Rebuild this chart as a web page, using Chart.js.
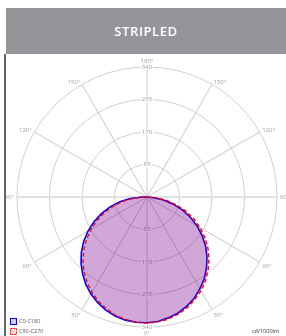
<!DOCTYPE html>
<html><head><meta charset="utf-8">
<script src="https://cdn.jsdelivr.net/npm/chart.js@4.4.1/dist/chart.umd.min.js"></script>
<style>
html,body{margin:0;padding:0;background:#fff;width:286px;height:336px;overflow:hidden;}
#hdr{position:absolute;left:6px;top:8px;width:280px;height:46px;background:#939598;color:#fff;font:600 13px "Open Sans",sans-serif;letter-spacing:0.6px;display:flex;align-items:center;justify-content:center;z-index:2;}
#bar{position:absolute;left:4px;top:54px;width:2px;height:282px;background:#666;z-index:2;}
canvas{position:absolute;left:0;top:0;}
</style></head><body>
<div id="hdr">STRIPLED</div><div id="bar"></div>
<canvas id="c" width="286" height="336"></canvas>
<script>
// gamma angles (deg from nadir), 5 degree steps
const gammaAngles = [0,5,10,15,20,25,30,35,40,45,50,55,60,65,70,75,80,85,90,95,100,105,110,115,120,125,130,135,140,145,150,155,160,165,170,175,180];
const seriesNames = ['C0-C180','C90-C270'];
// intensities cd/1000lm per gamma angle
const c0   = [329,327,321,314,304,292,277,261,242,222,200,176,151,125,98,70,42,13,0,0,0,0,0,0,0,0,0,0,0,0,0,0,0,0,0,0,0];
const c180 = [329,329,327,322,315,305,293,279,262,244,224,202,178,153,127,100,72,44,12,0,0,0,0,0,0,0,0,0,0,0,0,0,0,0,0,0,0];
const c90  = [330,328,324,317,308,296,283,267,249,229,208,185,160,135,108,80,52,24,0,0,0,0,0,0,0,0,0,0,0,0,0,0,0,0,0,0,0];
const c270 = [330,329,325,320,311,301,288,273,256,237,216,193,169,144,118,90,62,34,5,0,0,0,0,0,0,0,0,0,0,0,0,0,0,0,0,0,0];
const radialTicks = [85,170,255,340];
// angle labels clockwise from top, every 30 degrees
const angleTickLabels = ['180°','150°','120°','90°','60°','30°','0°','30°','60°','90°','120°','150°'];
const unitLabel = 'cd/1000lm';

// build radar positions (clockwise from top, 5 deg steps)
const N = 72;
const labels = [];
for (let i = 0; i < N; i++) { const p = i * 5; labels.push(p % 30 === 0 ? angleTickLabels[p / 30] : ''); }
function ring(right, left) {
  const out = [];
  for (let i = 0; i < N; i++) {
    const p = i * 5;
    out.push(p <= 180 ? right[gammaAngles.indexOf(180 - p)] : left[gammaAngles.indexOf(p - 180)]);
  }
  return out;
}

const polarText = {
  id: 'polarText',
  beforeDatasetsDraw(chart) {
    const s = chart.scales.r, ctx = chart.ctx;
    ctx.save();
    ctx.font = '6px "Open Sans", sans-serif';
    ctx.textAlign = 'center'; ctx.textBaseline = 'middle';
    radialTicks.forEach(v => {
      const d = s.getDistanceFromCenterForValue(v);
      [-1, 1].forEach(sg => {
        const x = s.xCenter, y = s.yCenter + sg * d, t = String(v);
        const w = ctx.measureText(t).width;
        ctx.fillStyle = '#fff'; ctx.fillRect(x - w / 2 - 1, y - 3, w + 2, 6);
        ctx.fillStyle = '#9a9a9a'; ctx.fillText(t, x, y);
      });
    });
    labels.forEach((lab, i) => {
      if (!lab) return;
      const p = i * 5;
      const pos = s.getPointPosition(i, s.drawingArea + 3);
      ctx.textAlign = (p % 180 === 0) ? 'center' : (p < 180 ? 'left' : 'right');
      ctx.textBaseline = p === 0 ? 'bottom' : (p === 180 ? 'top' : ((p > 90 && p < 270) ? 'top' : 'middle'));
      ctx.fillStyle = '#a0a0a0';
      ctx.fillText(lab, pos.x, pos.y);
    });
    ctx.restore();
  },
  afterDraw(chart) {
    const ctx = chart.ctx;
    ctx.save();
    ctx.font = '5.5px "Open Sans", sans-serif';
    ctx.textBaseline = 'middle';
    chart.data.datasets.forEach((ds, k) => {
      const bx = 10, by = 318 + k * 10;
      ctx.fillStyle = ds.legendFill; ctx.fillRect(bx, by, 6, 6);
      ctx.strokeStyle = ds.borderColor; ctx.lineWidth = 1;
      ctx.setLineDash(ds.borderDash ? [2, 1] : []);
      ctx.strokeRect(bx + 0.5, by + 0.5, 6, 6);
      ctx.setLineDash([]);
      ctx.fillStyle = '#555'; ctx.textAlign = 'left';
      ctx.fillText(ds.label, 19, by + 3.5);
    });
    ctx.textAlign = 'right'; ctx.fillStyle = '#333';
    ctx.fillText(unitLabel, 279, 331);
    ctx.restore();
  }
};

new Chart(document.getElementById('c').getContext('2d'), {
  type: 'radar',
  data: {
    labels: labels,
    datasets: [
      { label: seriesNames[0], data: ring(c0, c180), borderColor: '#0000ff', backgroundColor: 'rgba(0,0,255,0.22)', legendFill: 'rgba(0,0,255,0.2)', borderWidth: 1.6, fill: true, pointRadius: 0, order: 2 },
      { label: seriesNames[1], data: ring(c90, c270), borderColor: '#ff0000', backgroundColor: 'rgba(255,0,0,0.16)', legendFill: 'rgba(255,0,0,0.15)', borderWidth: 1.4, borderDash: [4, 2.5], fill: true, pointRadius: 0, order: 1 }
    ]
  },
  options: {
    responsive: false, animation: false, devicePixelRatio: 1,
    layout: { padding: { left: 17, right: 9, top: 67, bottom: 9 } },
    plugins: { legend: { display: false }, tooltip: { enabled: false } },
    elements: { line: { tension: 0 } },
    scales: {
      r: {
        min: 0, max: 340, startAngle: 0,
        ticks: { stepSize: 85, display: false },
        grid: { circular: true, color: '#cfcfcf', lineWidth: 1 },
        angleLines: {
          display: true,
          color: c => (c.index % 18 === 0 && c.index % 36 !== 0) ? '#e2e2e2' : '#c8c8c8',
          lineWidth: c => c.index % 6 !== 0 ? 0 : ((c.index % 18 === 0 && c.index % 36 !== 0) ? 2 : 1)
        },
        pointLabels: { display: false }
      }
    }
  },
  plugins: [polarText]
});
</script>
</body></html>
